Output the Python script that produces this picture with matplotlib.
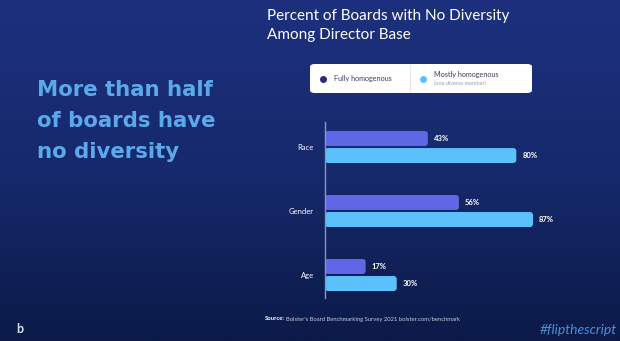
import matplotlib
matplotlib.use("Agg")
import matplotlib.pyplot as plt
import numpy as np
from matplotlib.patches import FancyBboxPatch
from matplotlib.colors import LinearSegmentedColormap

categories = ["Race", "Gender", "Age"]
fully = [43, 56, 17]
mostly = [80, 87, 30]
legend_labels = ["Fully homogenous", "Mostly homogenous"]

dark_c = "#5f67e6"
light_c = "#5cc0fa"
plt.rcParams['font.family'] = ['Lato', 'DejaVu Sans']

fig = plt.figure(figsize=(6.2, 3.41), dpi=100)

# background gradient
bg = fig.add_axes([0, 0, 1, 1])
grad = np.linspace(0, 1, 256).reshape(-1, 1)
cmap = LinearSegmentedColormap.from_list("bg", ["#1d307e", "#16296c", "#0b1a48"])
bg.imshow(grad, aspect="auto", cmap=cmap, extent=[0, 1, 0, 1], origin="upper")
bg.set_xlim(0, 1)
bg.set_ylim(0, 1)
bg.axis("off")

ax = fig.add_axes([325/620, 1-298/341, 220/620, 176/341])
ax.set_facecolor("none")
y = np.arange(len(categories))
h = 0.234
off = 0.133
xpx = 92/220  # data units per pixel in x
ypx = 1/64
b1 = ax.barh(y - off, fully, height=h, color=dark_c)
b2 = ax.barh(y + off, mostly, height=h, color=light_c)
for bars in (b1, b2):
    for b in bars:
        x0, y0, w, hh = b.get_x(), b.get_y(), b.get_width(), b.get_height()
        b.set_visible(False)
        r = 3 * xpx
        p = FancyBboxPatch((x0, y0), w, hh,
                           boxstyle="round,pad=0,rounding_size=%f" % r,
                           mutation_aspect=ypx/xpx,
                           facecolor=b.get_facecolor(), edgecolor="none")
        ax.add_patch(p)
        ax.text(x0 + w + 6*xpx, y0 + hh/2, "%d%%" % w, color="white",
                fontsize=5.5, fontweight="bold", va="center", ha="left")

ax.set_xlim(0, 92)
ax.set_ylim(2 + 23/64, -25/64)
ax.set_yticks(y)
ax.set_yticklabels(categories, color="white", fontsize=5.5)
ax.tick_params(axis="y", length=0, pad=8)
ax.set_xticks([])
for s in ["top", "right", "bottom"]:
    ax.spines[s].set_visible(False)
ax.spines["left"].set_color("#8a96c0")
ax.spines["left"].set_linewidth(1)

# title
fig.text(267/620, 1-16/341, "Percent of Boards with No Diversity", color="white",
         fontsize=11, va="center", ha="left")
fig.text(267/620, 1-35/341, "Among Director Base", color="white",
         fontsize=11, va="center", ha="left")

# legend box
lg = FancyBboxPatch((310/620, 1-93/341), 222/620, 29/341,
                    boxstyle="round,pad=0,rounding_size=0.008",
                    transform=fig.transFigure, facecolor="white", edgecolor="none")
fig.patches.append(lg)
fig.add_artist(plt.Line2D([410/620, 410/620], [1-92/341, 1-65/341],
                          transform=fig.transFigure, color="#e6e8ef", lw=0.8))
fig.add_artist(plt.Line2D([323/620], [1-79/341], marker="o", markersize=4,
                          color="#2b2a78", transform=fig.transFigure, lw=0))
fig.add_artist(plt.Line2D([423/620], [1-79/341], marker="o", markersize=4,
                          color=light_c, transform=fig.transFigure, lw=0))
fig.text(334/620, 1-79/341, legend_labels[0], color="#3a3f5c", fontsize=5.2,
         va="center", ha="left")
fig.text(434/620, 1-75/341, legend_labels[1], color="#3a3f5c", fontsize=5.2,
         va="center", ha="left")
fig.text(434/620, 1-83.5/341, "(one diverse member)", color="#9a9eb0", fontsize=4,
         va="center", ha="left")

# left headline
for i, line in enumerate(["More than half", "of boards have", "no diversity"]):
    fig.text(37/620, 1-(90 + 31*i)/341, line, color="#5ba9ea", fontsize=15.3,
             fontweight="bold", family="DejaVu Sans", va="center", ha="left")

# footer
fig.text(265/620, 1-319/341, "Source:", color="white", fontsize=4.2,
         fontweight="bold", va="center", ha="left")
fig.text(286/620, 1-319/341,
         "Bolster's Board Benchmarking Survey 2021 bolster.com/benchmark",
         color="#c8cde0", fontsize=4.2, va="center", ha="left")
fig.text(617/620, 1-330/341, "#flipthescript", color="#4a90d9", fontsize=10,
         style="italic", va="center", ha="right")
fig.text(20/620, 1-329/341, "b", color="#d0e6f8", fontsize=9, fontweight="bold",
         va="center", ha="center")

fig.savefig("out.png", dpi=100)
